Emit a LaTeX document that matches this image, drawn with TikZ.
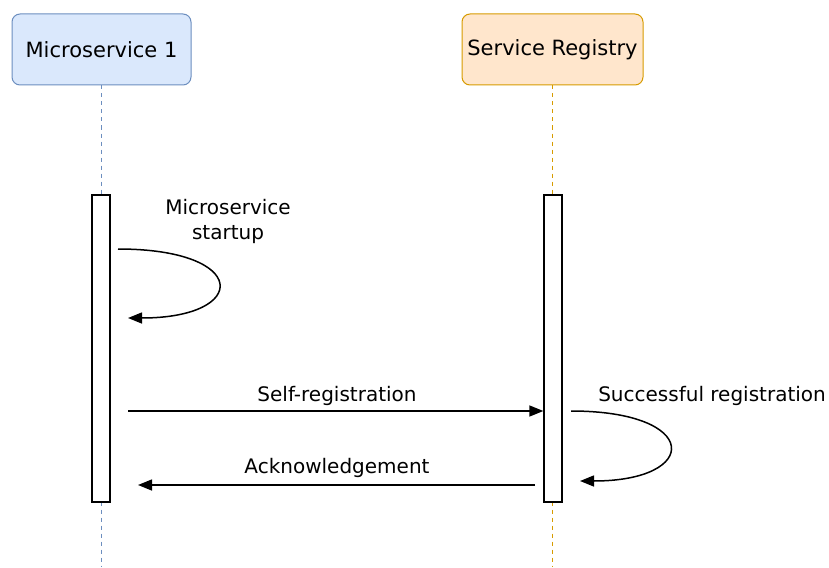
\documentclass[tikz,border=0pt]{standalone}
\usepackage{fontspec}
\setmainfont{DejaVu Sans}
\usetikzlibrary{arrows.meta}
\definecolor{msfill}{HTML}{DAE8FC}
\definecolor{msdraw}{HTML}{6C8EBF}
\definecolor{srfill}{HTML}{FFE6CC}
\definecolor{srdraw}{HTML}{D79B00}
\begin{document}
\begin{tikzpicture}[x=1pt,y=-1pt,
		actor/.style={draw,rounded corners=8pt,line width=1pt,minimum width=179pt,minimum height=71pt,inner sep=0pt,font=\fontsize{21}{25}\selectfont},
		lifeline/.style={line width=1pt,dash pattern=on 4pt off 4pt},
		bar/.style={draw,fill=white,line width=1.3pt,minimum width=18pt,minimum height=307pt,inner sep=0pt},
		msg/.style={line width=1.5pt,-{Triangle[length=14pt,width=11pt]}},
		lbl/.style={font=\fontsize{20}{25}\selectfont,inner sep=0pt}]
		\useasboundingbox(0,0)rectangle(829,567);

		\node[actor,fill=msfill,draw=msdraw](ms)at(101.5,49.5){\raisebox{-1pt}{Microservice 1}};
		\node[actor,fill=srfill,draw=srdraw,minimum width=181pt](sr)at(552.5,49.5){\raisebox{-1pt}{Service Registry}};
		\coordinate(msend)at(101.5,567);
		\coordinate(srend)at(552.5,567);

		\draw[lifeline,msdraw](ms.south)--(msend);
		\draw[lifeline,srdraw](sr.south)--(srend);
		\node[bar](msbar)at(101,348.5){};
		\node[bar](srbar)at(553,348.5){};

		% message ends
		\coordinate(a0)at(118,249);
		\coordinate(a1)at(128,318);
		\coordinate(b0)at(128,411);
		\coordinate(b1)at(srbar.west|-b0);
		\coordinate(c0)at(571,411);
		\coordinate(c1)at(580,481);
		\coordinate(d0)at(535,485);
		\coordinate(d1)at(138,485);

		\begin{scope}[msg]
			\draw(a0)..controls(250,249)and(250,318)..(a1);
			\draw(b0)--(b1);
			\draw(c0)..controls(701,411)and(701,481)..(c1);
			\draw(d0)--(d1);
		\end{scope}
		\node[lbl,align=center](startup)at(228,221){Microservice\\startup};
		\node[lbl](selfreg)at(337,396){Self-registration};
		\node[lbl,anchor=east](success)at(826,396){Successful registration};
		\node[lbl](ack)at(337,468){Acknowledgement};
	\end{tikzpicture}
\end{document}
